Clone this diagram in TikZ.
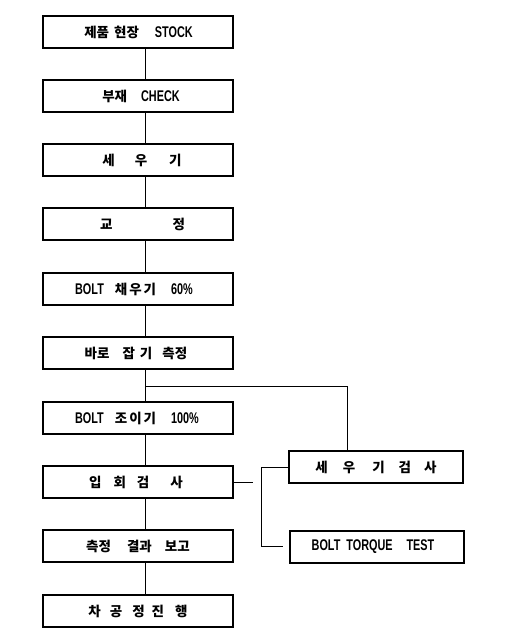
\documentclass[tikz,border=0pt]{standalone}
\usepackage{fontspec}
\usepackage{graphicx}
\setmainfont{Noto Sans CJK KR}
\newfontfamily\ltfont{Liberation Sans}
\newcommand\la[1]{\scalebox{0.7}[1]{\ltfont\fontsize{15.5}{15.5}\selectfont #1}}
\tikzset{
  mainbox/.style={draw, line width=1.1pt, minimum width=190pt, minimum height=32pt, inner sep=0pt,
    font=\fontsize{13.5}{14}\selectfont\bfseries},
  sidebox/.style={draw, line width=1.1pt, minimum width=174pt, minimum height=32pt, inner sep=0pt,
    font=\fontsize{13.5}{14}\selectfont\bfseries},
  conn/.style={line width=1pt}
}
\begin{document}
\begin{tikzpicture}[x=1pt,y=-1pt]
\useasboundingbox (0,0) rectangle (515,643);
\coordinate (spine) at (145,0);
\node[mainbox] (n1) at (138,32) {\hspace*{1pt}제품\hspace{5pt}현장\hspace{16pt}\la{STOCK}};
\node[mainbox] (n2) at (138,96) {\hspace*{6pt}부재\hspace{14pt}\la{CHECK}};
\node[mainbox] (n3) at (138,160) {\hspace*{8pt}세\hspace{20pt}우\hspace{22pt}기};
\node[mainbox] (n4) at (138,224) {\hspace*{9pt}교\hspace{60pt}정};
\node[mainbox] (n5) at (138,289) {\la{BOLT}\hspace{11pt}채\hspace{2pt}우\hspace{2pt}기\hspace{15pt}\la{60\%}\hspace*{8pt}};
\node[mainbox] (n6) at (138,353) {바로\hspace{13pt}잡\hspace{5pt}기\hspace{10pt}측정\hspace*{4pt}};
\node[mainbox] (n7) at (138,418) {\la{BOLT}\hspace{11pt}조\hspace{2pt}이\hspace{2pt}기\hspace{15pt}\la{100\%}\hspace*{2pt}};
\node[mainbox] (n8) at (138,482) {입\hspace{12pt}회\hspace{11pt}검\hspace{21pt}사\hspace*{4pt}};
\node[mainbox] (n9) at (138,546) {측정\hspace{16pt}결과\hspace{13pt}보고};
\node[mainbox] (n10) at (138,611) {차\hspace{9pt}공\hspace{10pt}정\hspace{7pt}진\hspace{11pt}행};
\node[sidebox] (sw) at (376,467) {세\hspace{15pt}우\hspace{17pt}기\hspace{14pt}검\hspace{13pt}사};
\node[sidebox] (bt) at (377,547) {\la{BOLT}\hspace{6pt}\la{TORQUE}\hspace{14pt}\la{TEST}\hspace*{8pt}};
% spine
\foreach \a/\b in {n1/n2,n2/n3,n3/n4,n4/n5,n5/n6,n6/n7,n7/n8,n8/n9,n9/n10}
  \draw[conn] (\a.south -| spine) -- (\b.north -| spine);
% branch to side boxes
\coordinate (br) at (145,386);
\coordinate (brc) at (347,386);
\draw[conn] (br) -- (brc) -- (brc |- sw.north);
\coordinate (ja) at (253,482);
\draw[conn] (n8.east) -- (ja);
\coordinate (vt) at (261,467);
\coordinate (vb) at (261,546);
\coordinate (te) at (283,546);
\draw[conn] (sw.west) -- (vt) -- (vb) -- (te);
\end{tikzpicture}
\end{document}
